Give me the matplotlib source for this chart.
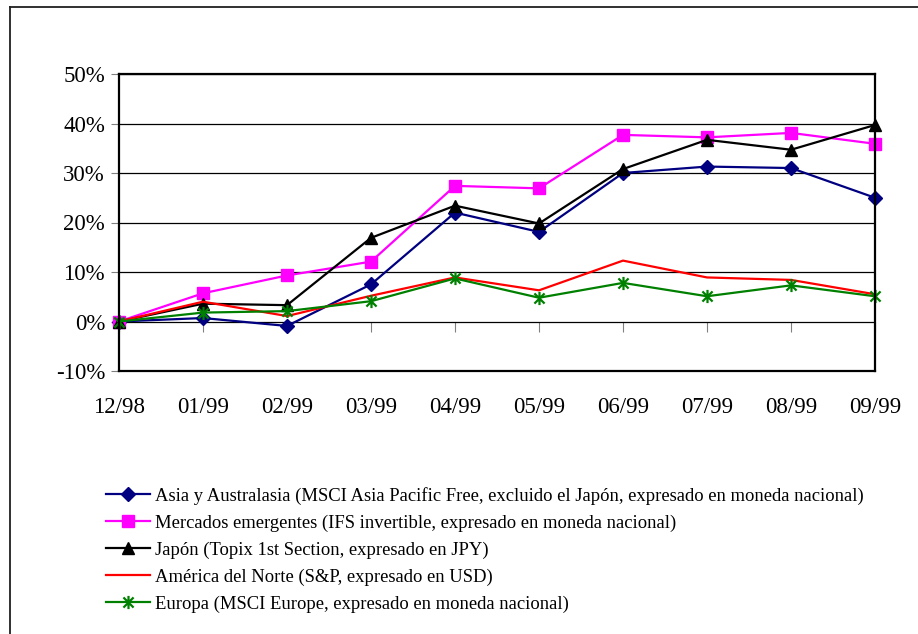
import matplotlib.pyplot as plt
from matplotlib.path import Path
from matplotlib.lines import Line2D
from matplotlib.ticker import FuncFormatter

plt.rcParams['font.family'] = ['Liberation Serif', 'DejaVu Serif']

# Monthly cumulative returns (%)
months = ['12/98', '01/99', '02/99', '03/99', '04/99', '05/99', '06/99', '07/99', '08/99', '09/99']
asia = [0, 0.7, -0.9, 7.5, 22.0, 18.1, 30.0, 31.3, 31.0, 25.0]
emergentes = [0, 5.7, 9.3, 12.1, 27.4, 26.9, 37.7, 37.2, 38.1, 35.9]
japon = [0, 3.6, 3.3, 16.9, 23.4, 19.8, 30.8, 36.7, 34.7, 39.7]
america = [0, 4.0, 1.1, 5.2, 8.9, 6.3, 12.3, 8.9, 8.4, 5.5]
europa = [0, 1.8, 2.1, 4.1, 8.7, 4.8, 7.8, 5.1, 7.3, 5.1]

labels = [
    'Asia y Australasia (MSCI Asia Pacific Free, excluido el Japón, expresado en moneda nacional)',
    'Mercados emergentes (IFS invertible, expresado en moneda nacional)',
    'Japón (Topix 1st Section, expresado en JPY)',
    'América del Norte (S&P, expresado en USD)',
    'Europa (MSCI Europe, expresado en moneda nacional)',
]

# asterisk marker: an X with a vertical bar through it
star = Path([(-1, -1), (1, 1), (-1, 1), (1, -1), (0, -1.3), (0, 1.3)],
            [Path.MOVETO, Path.LINETO, Path.MOVETO, Path.LINETO, Path.MOVETO, Path.LINETO])

W, H = 918, 634
fig = plt.figure(figsize=(W / 100, H / 100), dpi=100)
ax = fig.add_axes([119 / W, (H - 371) / H, (875 - 119) / W, (371 - 74) / H])

x = list(range(len(months)))
kw = dict(lw=1.6, clip_on=False)
ax.plot(x, asia, color='#000080', marker='D', ms=7, label=labels[0], **kw)
ax.plot(x, emergentes, color='#ff00ff', marker='s', ms=8.5, label=labels[1], **kw)
ax.plot(x, japon, color='black', marker='^', ms=9, label=labels[2], **kw)
ax.plot(x, america, color='#ff0000', label=labels[3], **kw)
ax.plot(x, europa, color='#008000', marker=star, ms=9.5, mew=1.6,
        mec='#008000', label=labels[4], **kw)

ax.set_xlim(0, len(months) - 1)
ax.set_ylim(-10, 50)
ax.set_yticks(range(-10, 51, 10))
ax.yaxis.set_major_formatter(FuncFormatter(lambda v, p: f'{v:.0f}%'))
ax.yaxis.grid(True, color='black', lw=0.9)
ax.set_axisbelow(True)

ax.set_xticks(x)
ax.set_xticklabels(months)
ax.tick_params(axis='x', length=0, pad=19, labelsize=16.5)
ax.tick_params(axis='y', direction='out', length=6, color='#808080', pad=4, labelsize=16.5)
for s in ax.spines.values():
    s.set_color('black')
    s.set_linewidth(1.6)

# category axis crosses at 0%, tick marks hang below it
sec = ax.secondary_xaxis(10 / 60)
sec.set_xticks(x)
sec.tick_params(axis='x', direction='out', length=7, color='#808080', labelbottom=False)
sec.spines['bottom'].set_visible(False)

leg = fig.legend(loc='upper left', bbox_to_anchor=(106 / W, (H - 487) / H),
                 frameon=False, fontsize=13.4, handlelength=2.37, handletextpad=0.25,
                 labelspacing=0.52, borderpad=0, borderaxespad=0)

# chart border
fig.add_artist(Line2D([10 / W, 1], [(H - 7) / H] * 2, color='#202020', lw=1.3))
fig.add_artist(Line2D([10 / W] * 2, [0, (H - 7) / H], color='#202020', lw=1.3))

fig.savefig('out.png', dpi=100)
